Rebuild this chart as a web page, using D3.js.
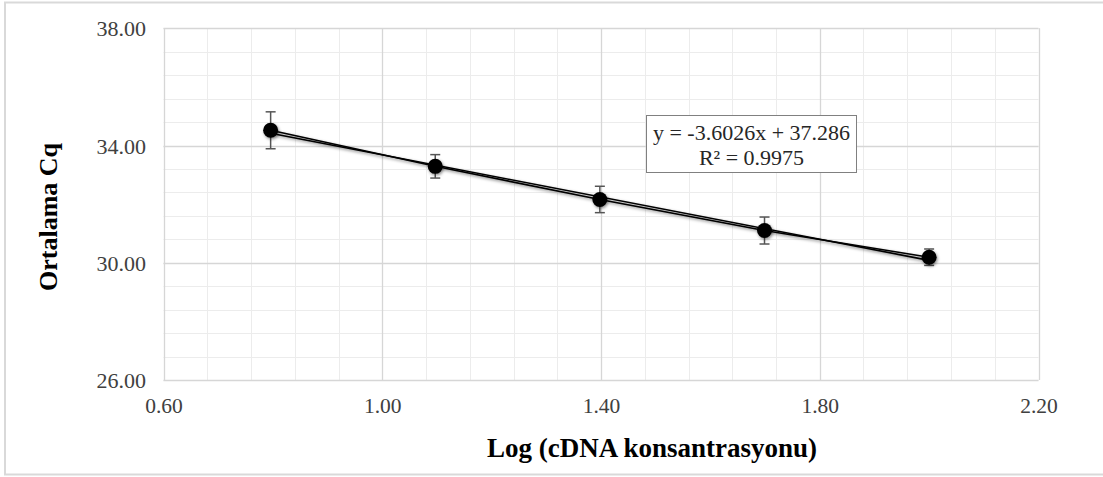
<!DOCTYPE html>
<html>
<head>
<meta charset="utf-8">
<script src="https://cdn.jsdelivr.net/npm/d3@7"></script>
<style>
  html, body { margin: 0; padding: 0; background: #fff; }
  svg { display: block; }
</style>
</head>
<body>
<svg id="chart" width="1103" height="477"></svg>
<script>
// ---- data ----
const logConc = [0.7959, 1.0969, 1.3979, 1.6990, 2.0000];
const meanCq = [34.52, 33.29, 32.16, 31.10, 30.19];
const errCq = [0.63, 0.40, 0.45, 0.46, 0.28];
const xTicks = [0.6, 1.0, 1.4, 1.8, 2.2];
const yTicks = [26, 30, 34, 38];
const trendSlope = -3.6026;
const trendIntercept = 37.286;
const rSquared = 0.9975;
const xTitle = "Log (cDNA konsantrasyonu)";
const yTitle = "Ortalama Cq";

// ---- layout ----
const svg = d3.select("#chart");
const x = d3.scaleLinear().domain([0.6, 2.2]).range([163.5, 1038.5]);
const y = d3.scaleLinear().domain([26, 38]).range([380, 28.3]);
const serif = "'Liberation Serif', 'Times New Roman', serif";

// outer frame
svg.append("rect")
  .attr("x", 5).attr("y", 2.5).attr("width", 1105).attr("height", 472)
  .attr("fill", "#fff").attr("stroke", "#d9d9d9").attr("stroke-width", 2);

const defs = svg.append("defs");
const f = defs.append("filter").attr("id", "shadow")
  .attr("x", "-50%").attr("y", "-50%").attr("width", "200%").attr("height", "200%");
f.append("feDropShadow").attr("dx", 1).attr("dy", 1.5).attr("stdDeviation", 1.6)
  .attr("flood-color", "#000").attr("flood-opacity", 0.45);

// grid
const minorX = d3.range(0.6, 2.2 + 1e-9, 0.08);
const minorY = d3.range(26, 38 + 1e-9, 0.8);
const grid = svg.append("g");
grid.selectAll("line.mx").data(minorX).join("line")
  .attr("x1", d => Math.round(x(d)) + 0.5).attr("x2", d => Math.round(x(d)) + 0.5)
  .attr("y1", y(26)).attr("y2", y(38))
  .attr("stroke", "#ececec").attr("stroke-width", 1);
grid.selectAll("line.my").data(minorY).join("line")
  .attr("y1", d => Math.round(y(d)) + 0.5).attr("y2", d => Math.round(y(d)) + 0.5)
  .attr("x1", x(0.6)).attr("x2", x(2.2))
  .attr("stroke", "#ececec").attr("stroke-width", 1);
grid.selectAll("line.Mx").data(xTicks).join("line")
  .attr("x1", d => Math.round(x(d)) + 0.5).attr("x2", d => Math.round(x(d)) + 0.5)
  .attr("y1", y(26)).attr("y2", y(38))
  .attr("stroke", "#d6d6d6").attr("stroke-width", 1.3);
grid.selectAll("line.My").data(yTicks).join("line")
  .attr("y1", d => Math.round(y(d)) + 0.5).attr("y2", d => Math.round(y(d)) + 0.5)
  .attr("x1", x(0.6)).attr("x2", x(2.2))
  .attr("stroke", "#d6d6d6").attr("stroke-width", 1.3);

// axes
const fmt = d3.format(".2f");
const gx = svg.append("g").attr("transform", `translate(0,${y(26)})`)
  .call(d3.axisBottom(x).tickValues(xTicks).tickFormat(fmt).tickSize(0));
gx.select(".domain").remove();
gx.selectAll("text").attr("y", 33).attr("dy", 0)
  .attr("font-family", serif)
  .attr("font-size", 21.5).attr("fill", "#404040");

const gy = svg.append("g").attr("transform", `translate(${x(0.6)},0)`)
  .call(d3.axisLeft(y).tickValues(yTicks).tickFormat(fmt).tickSize(0));
gy.select(".domain").remove();
gy.selectAll("text").attr("x", -17.5).attr("dy", 0).attr("y", 7.5)
  .attr("font-family", serif)
  .attr("font-size", 22).attr("fill", "#404040");

// titles
svg.append("text")
  .attr("x", 652).attr("y", 457)
  .attr("text-anchor", "middle")
  .attr("font-family", serif)
  .attr("font-weight", "bold").attr("font-size", 27).attr("fill", "#000")
  .text(xTitle);
svg.append("text")
  .attr("transform", "translate(57,217) rotate(-90)")
  .attr("text-anchor", "middle")
  .attr("font-family", serif)
  .attr("font-weight", "bold").attr("font-size", 26).attr("fill", "#000")
  .text(yTitle);

const pts = logConc.map((v, i) => ({ x: v, y: meanCq[i], e: errCq[i] }));

// series line and trendline
const lineGen = d3.line().x(d => x(d.x)).y(d => y(d.y));
const lineG = svg.append("g").attr("filter", "url(#shadow)");
lineG.append("path").datum(pts).attr("d", lineGen)
  .attr("fill", "none").attr("stroke", "#000").attr("stroke-width", 1.6);
const xMin = d3.min(logConc), xMax = d3.max(logConc);
const trend = [xMin, xMax].map(v => ({ x: v, y: trendSlope * v + trendIntercept }));
lineG.append("path").datum(trend).attr("d", lineGen)
  .attr("fill", "none").attr("stroke", "#000").attr("stroke-width", 1.6);

// error bars
const eb = svg.append("g").attr("stroke", "#555").attr("stroke-width", 1.5);
eb.selectAll("line.v").data(pts).join("line")
  .attr("x1", d => x(d.x)).attr("x2", d => x(d.x))
  .attr("y1", d => y(d.y + d.e)).attr("y2", d => y(d.y - d.e));
eb.selectAll("line.t").data(pts).join("line")
  .attr("x1", d => x(d.x) - 5).attr("x2", d => x(d.x) + 5)
  .attr("y1", d => y(d.y + d.e)).attr("y2", d => y(d.y + d.e));
eb.selectAll("line.b").data(pts).join("line")
  .attr("x1", d => x(d.x) - 5).attr("x2", d => x(d.x) + 5)
  .attr("y1", d => y(d.y - d.e)).attr("y2", d => y(d.y - d.e));

// markers
svg.append("g").attr("filter", "url(#shadow)")
  .selectAll("circle").data(pts).join("circle")
  .attr("cx", d => x(d.x)).attr("cy", d => y(d.y)).attr("r", 7.5)
  .attr("fill", "#000");

// equation box
const eq = svg.append("g");
eq.append("rect").attr("x", 646.5).attr("y", 115.5).attr("width", 210).attr("height", 57)
  .attr("fill", "#fff").attr("stroke", "#808080").attr("stroke-width", 1);
eq.append("text").attr("x", 751.5).attr("y", 140).attr("text-anchor", "middle")
  .attr("font-family", serif)
  .attr("font-size", 22).attr("fill", "#262626")
  .text(`y = ${trendSlope}x + ${trendIntercept}`);
eq.append("text").attr("x", 751.5).attr("y", 164.5).attr("text-anchor", "middle")
  .attr("font-family", serif)
  .attr("font-size", 22).attr("fill", "#262626")
  .text(`R² = ${rSquared}`);
</script>
</body>
</html>
